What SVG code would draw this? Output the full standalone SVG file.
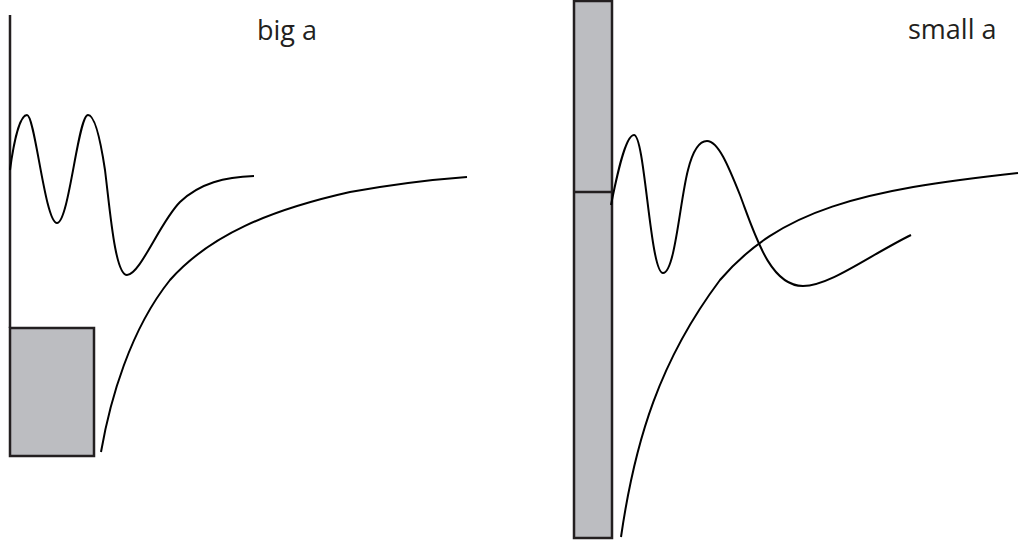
<svg xmlns="http://www.w3.org/2000/svg" width="1019" height="544" viewBox="0 0 1019 544">
<style>
.curve{fill:none;stroke:#000;stroke-width:2}
.box{fill:#bcbdc1;stroke:#231f20;stroke-width:2.5}
.axis{stroke:#231f20;stroke-width:2.5;fill:none}
.lbl{font-family:"Open Sans","Liberation Sans",sans-serif;font-size:27px;fill:#231f20}
</style>
<rect width="1019" height="544" fill="#fff"/>
<g id="big-a">
<line class="axis" x1="10" y1="15" x2="10" y2="328"/>
<rect class="box" x="10" y="328" width="84" height="128"/>
<text class="lbl" x="257" y="40">big a</text>
</g>
<g id="small-a">
<rect class="box" x="574" y="1" width="38" height="537"/>
<line class="axis" x1="574" y1="192" x2="612" y2="192"/>
<text class="lbl" x="908" y="39">small a</text>
</g>
<g id="connectors">
<path class="curve" d="M10,170 C14,140 20,115 27,115 C35,115 45,223 57,223 C69,223 78,115 88,115 C96,115 102,150 105,170 C110,210 115,275 127,275 C140,275 160,222 180,202 C200,183 225,177 254,176"/>
<path class="curve" d="M101,452 C110,400 130,330 170,280 C210,235 270,210 350,192 C400,183 440,179 467,177"/>
<path class="curve" d="M611,205 C616,180 625,135 634,135 C645,135 650,273 663,273 C675,273 680,200 688,170 C693,150 700,141 707,141 C718,141 728,165 740,195 C755,235 770,286 803,286 C830,286 870,255 911,235"/>
<path class="curve" d="M621,537 C635,440 660,360 720,280 C780,210 860,190 1018,173"/>
</g>
</svg>
